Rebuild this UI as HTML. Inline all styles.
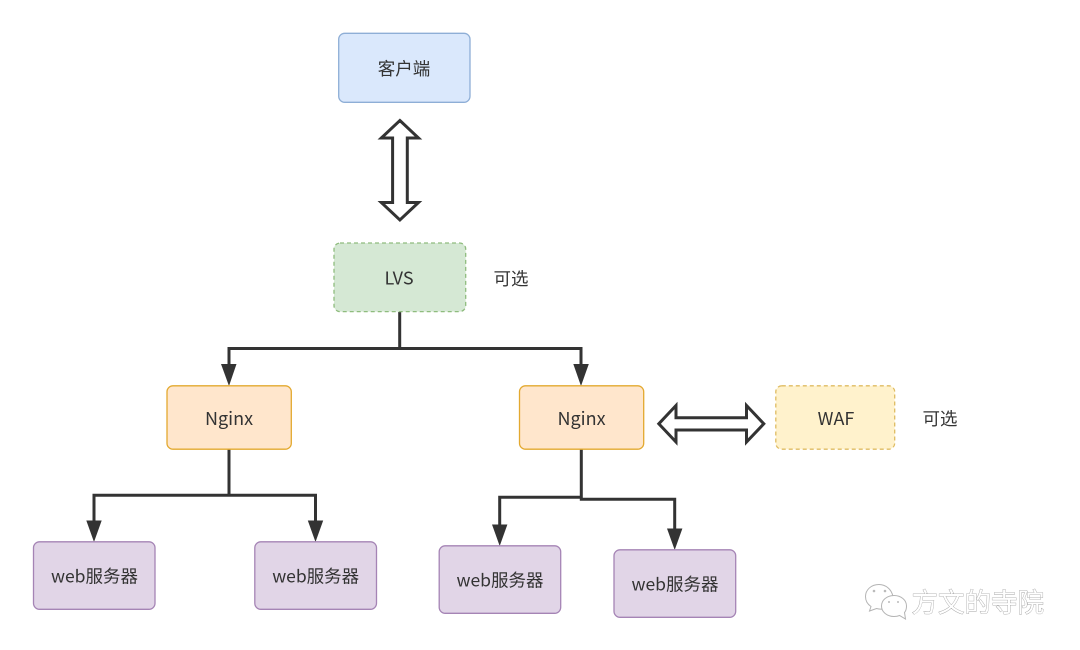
<!DOCTYPE html>
<html>
<head>
<meta charset="utf-8">
<style>
html,body{margin:0;padding:0;background:#fff;width:1080px;height:650px;overflow:hidden}
svg{display:block}
text{font-family:"Noto Sans CJK SC","Liberation Sans",sans-serif;font-size:17.5px;fill:#333;text-anchor:middle}
.l{font-size:18px}
.wm{font-size:26.5px;fill:#fff;text-anchor:start;stroke:#a0a0a0;stroke-width:.8px;paint-order:stroke}
</style>
</head>
<body>
<svg width="1080" height="650" viewBox="0 0 1080 650" xmlns="http://www.w3.org/2000/svg">
<rect width="1080" height="650" fill="#fff"/>

<!-- connectors -->
<g fill="none" stroke="#333" stroke-width="3">
<path d="M399.7 312V348.5M229 366V348.5H581V366"/>
<path d="M229 449V495.3M94 523V495.3H315.5V523"/>
<path d="M581.3 449V499.3H674.7V531M581.3 497.3H499.7V527"/>
</g>
<g fill="#333">
<path d="M221 364H236.500L229 386Z"/>
<path d="M573.300 364H588.800L581 386Z"/>
<path d="M86.300 520.500H101.700L94 542Z"/>
<path d="M307.800 520.500H323.200L315.500 542Z"/>
<path d="M492 524.500H507.400L499.700 546Z"/>
<path d="M667 528.500H682.400L674.700 550Z"/>
</g>

<!-- double arrows -->
<g fill="#fff" stroke="#333" stroke-width="3" stroke-miterlimit="6">
<path d="M399.900 120.500L418.500 138H407.300V202.500H418.500L399.900 220L381.300 202.500H392.600V138H381.300Z"/>
<path d="M658.800 423.800L676 405.500V417.800H746.500V405.500L763.800 423.800L746.500 442V430H676V442Z"/>
</g>

<!-- nodes -->
<rect x="338.700" y="33.300" width="131.300" height="69" rx="6" fill="#dae8fc" stroke="#8eaed6" stroke-width="1.300"/>
<rect x="334" y="243" width="131.700" height="68.600" rx="6" fill="#d5e8d4" stroke="#8fbc7e" stroke-width="1.300" stroke-dasharray="4 3"/>
<rect x="167" y="385.800" width="124.300" height="63.400" rx="6" fill="#ffe6cc" stroke="#e3a92f" stroke-width="1.300"/>
<rect x="519.500" y="385.800" width="124.200" height="63.400" rx="6" fill="#ffe6cc" stroke="#e3a92f" stroke-width="1.300"/>
<rect x="775.800" y="385.800" width="118.900" height="63.400" rx="6" fill="#fff2cc" stroke="#dfbc62" stroke-width="1.300" stroke-dasharray="4 3"/>
<rect x="33.500" y="541.800" width="121.500" height="67.500" rx="6" fill="#e1d5e7" stroke="#a584b5" stroke-width="1.300"/>
<rect x="254.800" y="541.800" width="121.700" height="67.500" rx="6" fill="#e1d5e7" stroke="#a584b5" stroke-width="1.300"/>
<rect x="439.200" y="545.800" width="121.500" height="67.500" rx="6" fill="#e1d5e7" stroke="#a584b5" stroke-width="1.300"/>
<rect x="614" y="549.800" width="121.700" height="67.500" rx="6" fill="#e1d5e7" stroke="#a584b5" stroke-width="1.300"/>

<!-- labels -->
<text x="404" y="75">客户端</text>
<text class="l" x="399" y="284.500">LVS</text>
<text x="511" y="285">可选</text>
<text class="l" x="229" y="425">Nginx</text>
<text class="l" x="581.500" y="425">Nginx</text>
<text class="l" x="836" y="425">WAF</text>
<text x="940" y="425">可选</text>
<text x="94.500" y="582.500">web服务器</text>
<text x="315.700" y="582.500">web服务器</text>
<text x="500" y="586.500">web服务器</text>
<text x="675" y="590.500">web服务器</text>

<!-- watermark -->
<g fill="#fff" stroke="#b4b4b4" stroke-width="1">
<path d="M879 584.500C871 584.500 865.500 590 865.500 596.500C865.500 601 868 604.500 871 606.500L869.500 611L876.500 608.500C878 609 880 609.200 882 609.200L893 596.500C891.500 589.500 886 584.500 879 584.500Z"/>
<path d="M894 595.500C887 595.500 881.500 600 881.500 606C881.500 612 887 616.500 894 616.500C896 616.500 898 616.200 899.500 615.500L905.500 619L904.500 612.500C906 610.800 906.500 608.500 906.500 606C906.500 600 901 595.500 894 595.500Z"/>
</g>
<g fill="#bbb">
<circle cx="874" cy="591" r="1.300"/><circle cx="885" cy="591" r="1.300"/>
<circle cx="889" cy="602" r="1"/><circle cx="898" cy="602" r="1"/>
</g>
<text class="wm" x="911.500" y="612">方文的寺院</text>
</svg>
</body>
</html>
